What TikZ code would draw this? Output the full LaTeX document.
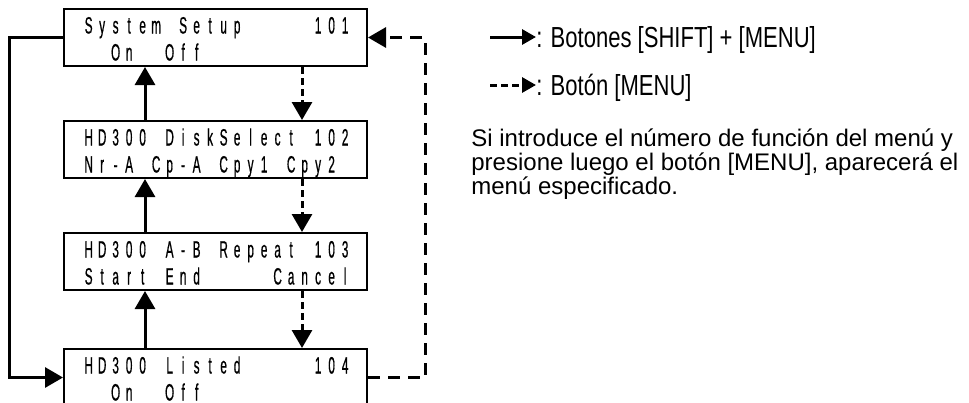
\documentclass[tikz,border=0pt]{standalone}
\usepackage{fontspec}
\setmainfont{Liberation Sans}
\newfontfamily\lcdfont[FakeStretch=0.5,FakeBold=0.6]{Liberation Sans}
\newfontfamily\legfont[FakeStretch=0.76]{Liberation Sans}
\usetikzlibrary{arrows.meta}

%% one LCD cell per character, ~ is an empty cell
\newlength\lcdpitch
\setlength\lcdpitch{6.75pt}
\makeatletter
\def\lcd@end{\lcd@end}
\newcommand\lcdline[1]{\lcd@cells#1\lcd@end}
\def\lcd@cells#1{\ifx#1\lcd@end\else\makebox[\lcdpitch]{#1}\expandafter\lcd@cells\fi}
\makeatother

\tikzset{
  menubox/.style={draw,line width=1pt,minimum width=151.5pt,minimum height=28.5pt,inner sep=0pt},
  lcdtext/.style={inner sep=0pt,anchor=base west,font=\lcdfont\fontsize{11.8}{11.8}\selectfont},
  shiftarrow/.style={line width=1.5pt,-{Triangle[length=9pt,width=10pt]}},
  menuarrow/.style={line width=1.5pt,dash pattern=on 3.5pt off 2pt,-{Triangle[length=9pt,width=10pt]}},
  loopdash/.style={line width=1.5pt,dash pattern=on 6pt off 4pt,-{Triangle[length=9pt,width=10pt]}},
  legtext/.style={inner sep=0pt,anchor=base west,font=\legfont\fontsize{14.5}{14.5}\selectfont},
  paratext/.style={inner sep=0pt,anchor=base west,font=\fontsize{12}{12}\selectfont},
}

\begin{document}
\begin{tikzpicture}[x=0.5pt,y=-0.5pt,line join=miter]
\useasboundingbox (0,0) rectangle (969,402);

%% ---------------- the four menu screens ----------------
\node[menubox] (m101) at (215.5,37.5) {};
\node[menubox] (m102) at (215.5,149.5) {};
\node[menubox] (m103) at (215.5,261.5) {};
\node[menubox] (m104) at (215.5,377.5) {};

%% screen texts, 20 cells a line
\node[lcdtext] (t101) at (81.5,33.5) {\lcdline{System~Setup~~~~~101}};
\node[lcdtext] (s101) at (81.5,60.5) {\lcdline{~~On~~Off}};

\node[lcdtext] (t102) at (81.5,145.5) {\lcdline{HD300~DiskSelect~102}};
\node[lcdtext] (s102) at (81.5,172.5) {\lcdline{Nr-A~Cp-A~Cpy1~Cpy2}};

\node[lcdtext] (t103) at (81.5,257.5) {\lcdline{HD300~A-B~Repeat~103}};
\node[lcdtext] (s103) at (81.5,284.5) {\lcdline{Start~End~~~~~Cancel}};

\node[lcdtext] (t104) at (81.5,373.5) {\lcdline{HD300~Listed~~~~~104}};
\node[lcdtext] (s104) at (81.5,400.5) {\lcdline{~~On~~Off}};

%% ---------------- connectors ----------------
\coordinate (upx) at (145,0);
\coordinate (dnx) at (302,0);
%% [SHIFT]+[MENU] goes back up
\draw[shiftarrow] (m102.north -| upx) -- (m101.south -| upx);
\draw[shiftarrow] (m103.north -| upx) -- (m102.south -| upx);
\draw[shiftarrow] (m104.north -| upx) -- (m103.south -| upx);
\draw[shiftarrow] (m101.west) -- ++(-54,0) |- (m104.west);
%% [MENU] goes down
\draw[menuarrow] (m101.south -| dnx) -- (m102.north -| dnx);
\draw[menuarrow] (m102.south -| dnx) -- (m103.north -| dnx);
\draw[menuarrow] (m103.south -| dnx) -- (m104.north -| dnx);
\draw[loopdash] (m104.east) -- ++(57,0) |- (m101.east);

%% ---------------- legend ----------------
\coordinate (leg1) at (490,37);
\node[legtext] (lt1) at (536,47) {: Botones [SHIFT] + [MENU]};
\draw[line width=1.5pt,-{Triangle[length=7pt,width=7.5pt]}] (leg1) -- (lt1.west |- leg1);
\coordinate (leg2) at (490,85);
\node[legtext] (lt2) at (536,95) {: Botón [MENU]};
\draw[line width=1.5pt,dash pattern=on 3.5pt off 2pt,-{Triangle[length=7pt,width=7.5pt]}] (leg2) -- (lt2.west |- leg2);

%% note under the legend
\node[paratext] (p1) at (471,146) {Si introduce el número de función del menú y};
\node[paratext] (p2) at (471,170) {presione luego el botón [MENU], aparecerá el};
\node[paratext] (p3) at (471,194) {menú especificado.};

\end{tikzpicture}
\end{document}
